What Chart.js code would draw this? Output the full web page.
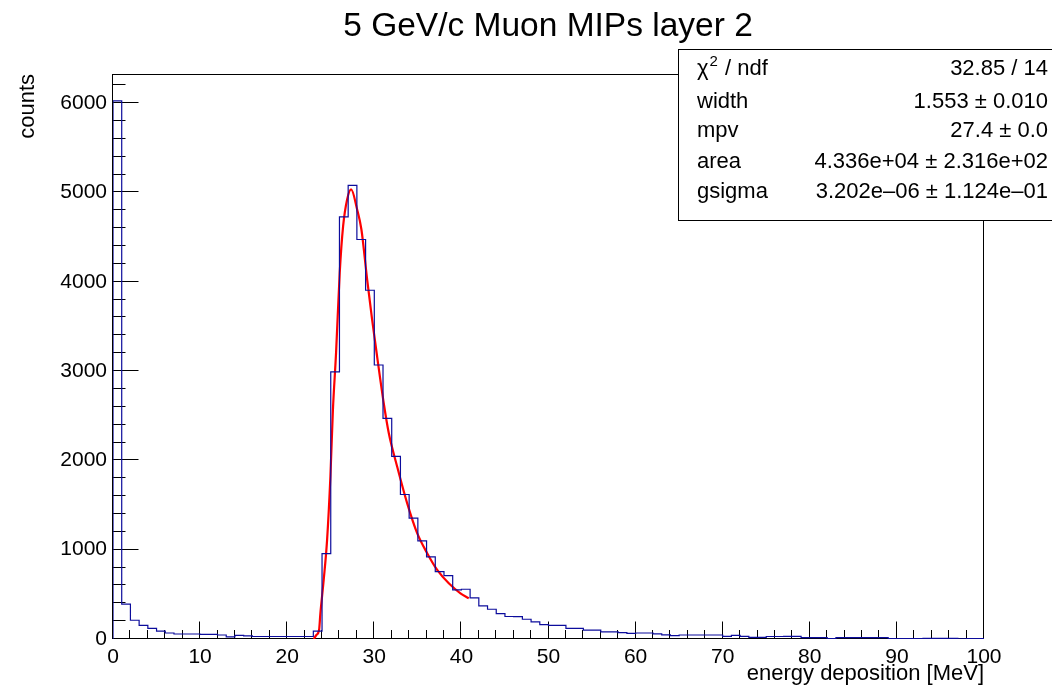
<!DOCTYPE html>
<html><head><meta charset="utf-8">
<script src="https://cdn.jsdelivr.net/npm/chart.js@4.4.1/dist/chart.umd.min.js"></script>
<style>html,body{margin:0;padding:0;background:#fff;}#wrap{width:1052px;height:687px;}</style>
</head><body><div id="wrap"><canvas id="c" width="1052" height="687"></canvas></div>
<script>
// ---- data ----
const chartTitle = '5 GeV/c Muon MIPs layer 2';
const xAxisTitle = 'energy deposition [MeV]';
const yAxisTitle = 'counts';
const xRange = [0, 100];
const yRange = [0, 6326];
const xTickValues = [0, 10, 20, 30, 40, 50, 60, 70, 80, 90, 100];
const yTickValues = [0, 1000, 2000, 3000, 4000, 5000, 6000];
// histogram bin contents, 100 bins of width 1 MeV starting at 0
const counts = [
  6025, 390, 210, 153, 120, 88, 67, 56, 56, 56,
  52, 52, 45, 24, 41, 34, 28, 28, 28, 28,
  28, 28, 28, 88, 955, 2990, 4727, 5078, 4473, 3905,
  3068, 2470, 2044, 1618, 1353, 1099, 919, 755, 710, 549,
  557, 460, 370, 333, 284, 252, 250, 221, 191, 161,
  153, 153, 120, 120, 99, 99, 80, 80, 72, 64,
  67, 67, 58, 47, 37, 45, 45, 45, 45, 45,
  30, 41, 30, 19, 19, 28, 28, 30, 30, 15,
  15, 15, 4, 15, 15, 15, 15, 15, 15, 5,
  5, 5, 5, 7, 7, 7, 7, 1, 4, 4
];
// fitted curve, points
const fitX = [23.05, 23.35, 23.66, 23.81, 24.19, 24.58, 24.96, 25.25, 25.61, 26.03, 26.42, 26.88, 27.34, 28.03, 28.52, 29.18, 29.75, 30.32, 31.08, 31.66, 32.62, 33.77, 34.92, 36.07, 37.22, 38.55, 39.89, 40.85];
const fitY = [0, 45, 101, 288, 661, 1110, 1820, 2567, 3203, 4100, 4622, 4922, 5034, 4809, 4585, 4025, 3576, 3165, 2642, 2306, 1932, 1521, 1185, 961, 774, 624, 512, 456];
// fit statistics box
const statsLabels = ['χ2 / ndf', 'width', 'mpv', 'area', 'gsigma'];
const statsValues = ['32.85 / 14', '1.553 ± 0.010', '27.4 ± 0.0', '4.336e+04 ± 2.316e+02', '3.202e–06 ± 1.124e–01'];

// ---- build datasets ----
const binWidth = (xRange[1] - xRange[0]) / counts.length;
const histPoints = [{x: xRange[0], y: 0}];
counts.forEach((c, i) => histPoints.push({x: xRange[0] + i * binWidth, y: c}));
histPoints.push({x: xRange[1], y: 0});
const fitPoints = fitX.map((x, i) => ({x: x, y: fitY[i]}));

const FONT = '"Liberation Sans", Arial, Helvetica, sans-serif';

const rootFrame = {
  id: 'rootFrame',
  beforeDatasetsDraw(chart) {
    const ctx = chart.ctx, ca = chart.chartArea;
    const xs = chart.scales.x, ys = chart.scales.y;
    ctx.save();
    ctx.strokeStyle = '#000';
    ctx.lineWidth = 1;
    const L = Math.round(ca.left) - 0.5, R = Math.round(ca.right) - 0.5;
    const T = Math.round(ca.top) + 0.5, B = Math.round(ca.bottom) - 0.5;
    ctx.strokeRect(L, T, R - L, B - T);
    ctx.beginPath();
    const xMajor = xTickValues[1] - xTickValues[0];
    const xMinor = xMajor / 5;
    for (let v = xRange[0]; v <= xRange[1] + 1e-9; v += xMinor) {
      const px = Math.round(xs.getPixelForValue(v)) - 0.5;
      const major = Math.abs(v / xMajor - Math.round(v / xMajor)) < 1e-6;
      const len = major ? 17 : 8.5;
      ctx.moveTo(px, B); ctx.lineTo(px, B - len);
    }
    const yMajor = yTickValues[1] - yTickValues[0];
    const yMinor = yMajor / 5;
    for (let v = yRange[0]; v <= yRange[1]; v += yMinor) {
      const py = Math.round(ys.getPixelForValue(v)) - 0.5;
      const major = v % yMajor === 0;
      const len = major ? 26 : 13;
      ctx.moveTo(L, py); ctx.lineTo(L + len, py);
    }
    ctx.stroke();
    ctx.restore();
  },
  afterDraw(chart) {
    const ctx = chart.ctx;
    ctx.save();
    // title
    ctx.fillStyle = '#000';
    ctx.font = '33.5px ' + FONT;
    ctx.textAlign = 'center';
    ctx.textBaseline = 'alphabetic';
    ctx.fillText(chartTitle, 548, 36);
    // stats box
    const bx = 678.5, by = 49.5, bw = 380, bh = 171;
    ctx.fillStyle = '#fff';
    ctx.fillRect(bx, by, bw, bh);
    ctx.strokeStyle = '#000';
    ctx.lineWidth = 1;
    ctx.strokeRect(bx, by, bw, bh);
    ctx.fillStyle = '#000';
    const baselines = [75, 108, 137, 168, 198];
    const fs = 22;
    ctx.font = fs + 'px ' + FONT;
    statsLabels.forEach((lab, i) => {
      const y = baselines[i];
      ctx.textAlign = 'left';
      if (lab.startsWith('χ2')) {
        ctx.fillText('χ', 697, y);
        const w = ctx.measureText('χ').width;
        ctx.font = '15px ' + FONT;
        ctx.fillText('2', 697 + w + 1, y - 9);
        const w2 = ctx.measureText('2').width;
        ctx.font = fs + 'px ' + FONT;
        ctx.fillText(lab.slice(2), 697 + w + w2 + 2, y);
      } else {
        ctx.fillText(lab, 697, y);
      }
      ctx.textAlign = 'right';
      ctx.fillText(statsValues[i], 1048, y);
    });
    ctx.restore();
  }
};

new Chart(document.getElementById('c'), {
  type: 'line',
  data: {
    datasets: [
      {
        data: histPoints,
        borderColor: '#0c0c9c',
        borderWidth: 1.2,
        stepped: 'before',
        pointRadius: 0,
        fill: false
      },
      {
        data: fitPoints,
        borderColor: '#ff0000',
        borderWidth: 2.2,
        cubicInterpolationMode: 'monotone',
        pointRadius: 0,
        fill: false
      }
    ]
  },
  options: {
    responsive: false,
    animation: false,
    devicePixelRatio: 1,
    layout: {padding: {top: 74, right: 68, bottom: 0, left: 0}},
    plugins: {legend: {display: false}, tooltip: {enabled: false}, title: {display: false}},
    scales: {
      x: {
        type: 'linear',
        min: xRange[0], max: xRange[1],
        afterBuildTicks(s) { s.ticks = xTickValues.map(v => ({value: v})); },
        afterFit(s) { s.height = 48; },
        grid: {display: false, drawTicks: false},
        border: {display: false},
        ticks: {autoSkip: false, maxRotation: 0, padding: 6, color: '#000', font: {family: FONT, size: 21}},
        title: {display: true, text: xAxisTitle, align: 'end', color: '#000', font: {family: FONT, size: 22}, padding: {top: 0, bottom: 0}}
      },
      y: {
        type: 'linear',
        min: yRange[0], max: yRange[1],
        afterBuildTicks(s) { s.ticks = yTickValues.map(v => ({value: v})); },
        afterFit(s) { s.width = 113; },
        grid: {display: false, drawTicks: false},
        border: {display: false},
        ticks: {autoSkip: false, padding: 6, color: '#000', font: {family: FONT, size: 21},
          callback: v => String(v)},
        title: {display: true, text: yAxisTitle, align: 'end', color: '#000', font: {family: FONT, size: 22}, padding: {top: 15, bottom: 0}}
      }
    }
  },
  plugins: [rootFrame]
});
</script></body></html>
